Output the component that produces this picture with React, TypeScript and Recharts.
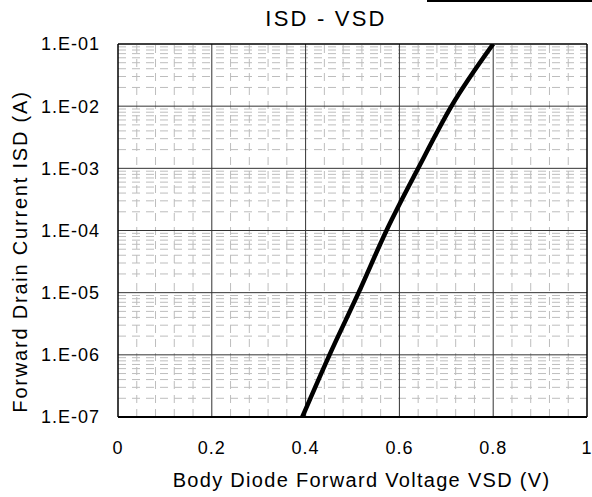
import { LineChart, Line, XAxis, YAxis, ReferenceLine, Label } from 'recharts';

// forward voltage (V) read at each decade of current
const vsd = [0.393, 0.451, 0.513, 0.5725, 0.64, 0.711, 0.8];
const isd = [1e-7, 1e-6, 1e-5, 1e-4, 1e-3, 1e-2, 1e-1];

const xTicks = [0, 0.2, 0.4, 0.6, 0.8, 1];
const yTicks = [1e-7, 1e-6, 1e-5, 1e-4, 1e-3, 1e-2, 1e-1];

const title = 'ISD - VSD';
const xTitle = 'Body Diode Forward Voltage VSD (V)';
const yTitle = 'Forward Drain Current ISD (A)';

const data = vsd.map((v, i) => ({ vsd: v, isd: isd[i] }));

// minor grid: every 0.04 V, and 2..9 within each decade
const minorX: number[] = [];
for (let i = 1; i < 25; i++) if (i % 5 !== 0) minorX.push(i * 0.04);
const minorY: number[] = [];
yTicks.slice(0, -1).forEach((d) => {
	for (let k = 2; k <= 9; k++) minorY.push(d * k);
});

const font = '"Liberation Sans", Arial, sans-serif';
const tickStyle = { fill: '#000', fontSize: 18, fontFamily: font, letterSpacing: 1 };

const fmtY = (v: number) => `1.E-0${-Math.round(Math.log10(v))}`;

export default function App() {
	return (
		<div style={{ position: 'absolute', left: 0, top: 0, width: 592, height: 497, background: '#fff' }}>
			<div style={{ position: 'absolute', left: 427, top: 0, width: 165, height: 2, background: '#000' }} />
			<div
				style={{
					position: 'absolute',
					left: 0,
					width: 652,
					top: 8,
					lineHeight: '22px',
					textAlign: 'center',
					fontFamily: font,
					fontSize: 22,
					letterSpacing: 2.2,
					color: '#000',
				}}
			>
				{title}
			</div>
			<LineChart width={592} height={497} data={data} margin={{ top: 44, right: 5, bottom: 0, left: 0 }}>
				{minorX.map((v) => (
					<ReferenceLine key={'mx' + v} x={v} stroke="#bdbdbd" strokeDasharray="8 6" />
				))}
				{minorY.map((v) => (
					<ReferenceLine key={'my' + v} y={v} stroke="#bdbdbd" strokeDasharray="8 6" />
				))}
				{xTicks.slice(1, -1).map((v) => (
					<ReferenceLine key={'x' + v} x={v} stroke="#333" strokeWidth={1} />
				))}
				{yTicks.slice(1, -1).map((v) => (
					<ReferenceLine key={'y' + v} y={v} stroke="#333" strokeWidth={1} />
				))}
				<ReferenceLine x={0} stroke="#000" strokeWidth={1.5} />
				<ReferenceLine x={1} stroke="#000" strokeWidth={1.5} />
				<ReferenceLine y={1e-7} stroke="#000" strokeWidth={2} />
				<ReferenceLine y={1e-1} stroke="#000" strokeWidth={1.5} />
				<XAxis
					dataKey="vsd"
					type="number"
					domain={[0, 1]}
					ticks={xTicks}
					tickFormatter={(v: number) => String(v)}
					axisLine={false}
					tickLine={false}
					tickSize={0}
					tickMargin={24}
					height={80}
					tick={tickStyle}
					interval={0}
				>
					<Label
						content={({ viewBox }: any) => (
							<text
								x={viewBox.x + viewBox.width / 2 + 9}
								y={viewBox.y + 70}
								textAnchor="middle"
								fontFamily={font}
								fontSize={20}
								letterSpacing={1.3}
								fill="#000"
							>
								{xTitle}
							</text>
						)}
					/>
				</XAxis>
				<YAxis
					dataKey="isd"
					scale="log"
					domain={[1e-7, 1e-1]}
					allowDataOverflow
					ticks={yTicks}
					tickFormatter={fmtY}
					axisLine={false}
					tickLine={false}
					tickSize={0}
					tickMargin={18}
					width={118}
					tick={tickStyle}
					interval={0}
				>
					<Label
						content={({ viewBox }: any) => {
							const cx = 27;
							const cy = viewBox.y + viewBox.height / 2 + 21;
							return (
								<text
									x={cx}
									y={cy}
									transform={`rotate(-90 ${cx} ${cy})`}
									textAnchor="middle"
									fontFamily={font}
									fontSize={20}
									letterSpacing={1.8}
									fill="#000"
								>
									{yTitle}
								</text>
							);
						}}
					/>
				</YAxis>
				<Line
					dataKey="isd"
					type="monotone"
					stroke="#000"
					strokeWidth={4.5}
					dot={false}
					isAnimationActive={false}
				/>
			</LineChart>
		</div>
	);
}
